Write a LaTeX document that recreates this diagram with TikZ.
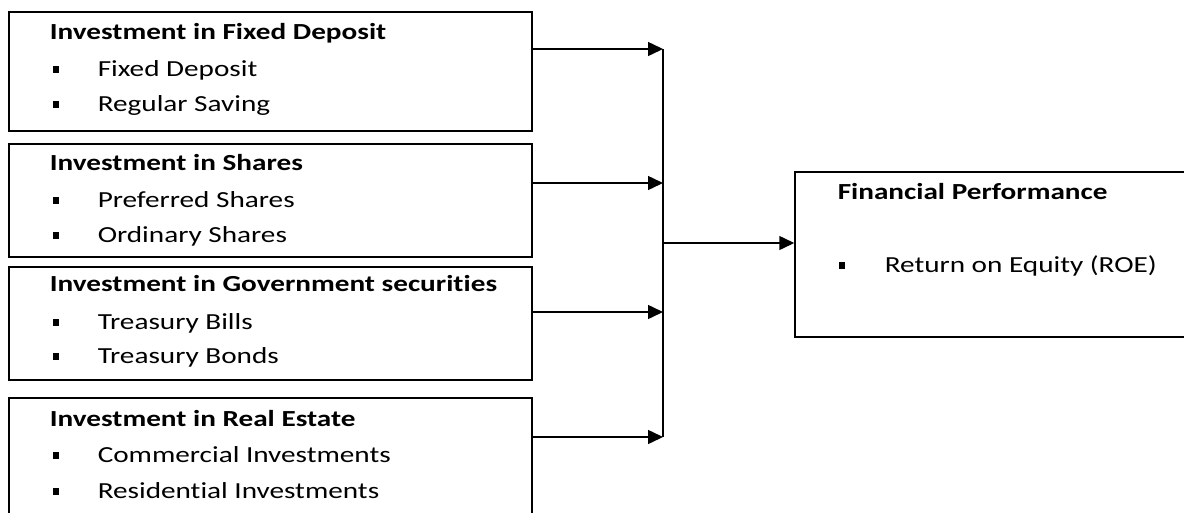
\documentclass[tikz,border=0pt]{standalone}
\usepackage{fontspec}
\setmainfont{Carlito}[FakeStretch=1.27, Ligatures=CommonOff]
\usetikzlibrary{arrows.meta}

\begin{document}
\begin{tikzpicture}[x=1pt, y=-1pt, line width=1.5pt,
  box/.style={draw, rectangle, inner sep=0pt},
  head/.style={anchor=base west, inner sep=0pt, font=\fontsize{23}{27}\selectfont\bfseries},
  item/.style={anchor=base west, inner sep=0pt, font=\fontsize{23}{27}\selectfont},
  bull/.style={fill=black, inner sep=0pt, minimum width=6pt, minimum height=7pt, anchor=south west},
  >={Triangle[length=15pt,width=14pt]}]
\useasboundingbox (0,0) rectangle (1184,512);
\clip (0,0) rectangle (1184,512);
% left boxes
\node[box, minimum width=523pt, minimum height=119pt] (fd) at (270.5,71.5) {};
\node[box, minimum width=523pt, minimum height=113pt] (sh) at (270.5,200.5) {};
\node[box, minimum width=523pt, minimum height=113pt] (gs) at (270.5,323.5) {};
\node[box, minimum width=523pt, minimum height=122pt] (re) at (270.5,459) {};
% right box
\node[box, minimum width=400pt, minimum height=165pt] (fp) at (995,254.5) {};
% headings
\node[head] (fdh) at (49,39) {Investment in Fixed Deposit};
\node[head] (shh) at (49,170) {Investment in Shares};
\node[head] (gsh) at (49,291) {Investment in Government securities};
\node[head] (reh) at (49,426) {Investment in Real Estate};
\node[head] (fph) at (837,199) {Financial Performance};
% items
\foreach \y/\t [count=\i] in {76/Fixed Deposit, 111/Regular Saving, 207/Preferred Shares,
  242/Ordinary Shares, 329/Treasury Bills, 363/Treasury Bonds,
  462/Commercial Investments, 498/Residential Investments}
{
  \node[bull] (b\i) at (52,\y-2) {};
  \node[item] (t\i) at (97,\y) {\t};
}
\node[bull] (fpb) at (838,270) {};
\node[item] (fpt) at (884,272) {Return on Equity (ROE)};
% connectors
\coordinate (j1) at (663,49);
\coordinate (j2) at (663,183);
\coordinate (j3) at (663,312);
\coordinate (j4) at (663,437);
\coordinate (jo) at (663,243);
\draw[->] (fd.east |- j1) -- (j1);
\draw[->] (sh.east |- j2) -- (j2);
\draw[->] (gs.east |- j3) -- (j3);
\draw[->] (re.east |- j4) -- (j4);
\draw (j1) -- (j4);
\draw[->] (jo) -- (fp.west |- jo);
\end{tikzpicture}
\end{document}
